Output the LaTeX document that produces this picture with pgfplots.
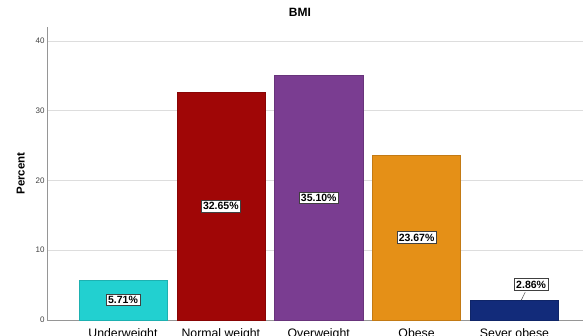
\documentclass[border=0pt]{standalone}
\usepackage{pgfplots}
\pgfplotsset{compat=1.18}
\usepackage{fontspec}
\setmainfont{Liberation Sans}
\definecolor{cUnder}{RGB}{34,208,208}
\definecolor{cNormal}{RGB}{160,6,6}
\definecolor{cOver}{RGB}{122,61,145}
\definecolor{cObese}{RGB}{229,144,23}
\definecolor{cSevere}{RGB}{18,43,122}
\definecolor{gridc}{RGB}{221,221,221}
\definecolor{axc}{RGB}{150,150,150}
\begin{document}
\begin{tikzpicture}
\begin{axis}[
  name=ax,
  scale only axis,
  width=536pt, height=293pt,
  xmin=-0.776, xmax=4.70,
  ymin=0, ymax=42,
  ytick={0,10,20,30,40},
  xtick={0,1,2,3,4},
  xticklabels={Underweight,Normal weight,Overweight,Obese,Sever obese},
  axis x line*=bottom, axis y line*=left,
  axis line style={axc, line width=0.8pt},
  every outer x axis line/.append style={-},
  every outer y axis line/.append style={-},
  tick style={draw=none},
  ymajorgrids, grid style={gridc, line width=0.8pt},
  yticklabel style={font=\fontsize{8}{9}\selectfont, text=black!75, xshift=1pt},
  xticklabel style={font=\fontsize{12.3}{14}\selectfont, anchor=north, yshift=-1pt},
  /pgf/number format/assume math mode=true,
  ylabel={\textbf{Percent}},
  ylabel style={font=\fontsize{11.5}{13}\selectfont, yshift=4pt},
  title={\textbf{BMI}},
  title style={font=\fontsize{12}{14}\selectfont, at={(rel axis cs:0.472,1)}, anchor=center, yshift=9pt},
  ybar, bar width=0.9, bar shift=0pt,
  clip=false,
]
\addplot[fill=cUnder, draw=cUnder!85!black, line width=0.4pt] coordinates {(0,5.71)};
\addplot[fill=cNormal, draw=cNormal!85!black, line width=0.4pt] coordinates {(1,32.65)};
\addplot[fill=cOver, draw=cOver!85!black, line width=0.4pt] coordinates {(2,35.10)};
\addplot[fill=cObese, draw=cObese!85!black, line width=0.4pt] coordinates {(3,23.67)};
\addplot[fill=cSevere, draw=cSevere!85!black, line width=0.4pt] coordinates {(4,2.86)};
\addplot[sharp plot, black!70, line width=0.5pt, mark=none] coordinates {(4.07,2.86) (4.11,4.0)};
\addplot[only marks, mark=none,
  nodes near coords, point meta=explicit symbolic,
  every node near coord/.style={anchor=center, fill=white, draw=black!75, line width=0.6pt,
    inner sep=2pt, font=\bfseries\fontsize{10.5}{12}\selectfont}]
  coordinates {(0,2.855)[5.71\%] (1,16.325)[32.65\%] (2,17.55)[35.10\%] (3,11.835)[23.67\%] (4.17,5.1)[2.86\%]};
\end{axis}
\pgfresetboundingbox
\path ([xshift=-47pt,yshift=-15pt]ax.south west) rectangle ([yshift=27pt]ax.north east);
\end{tikzpicture}
\end{document}
